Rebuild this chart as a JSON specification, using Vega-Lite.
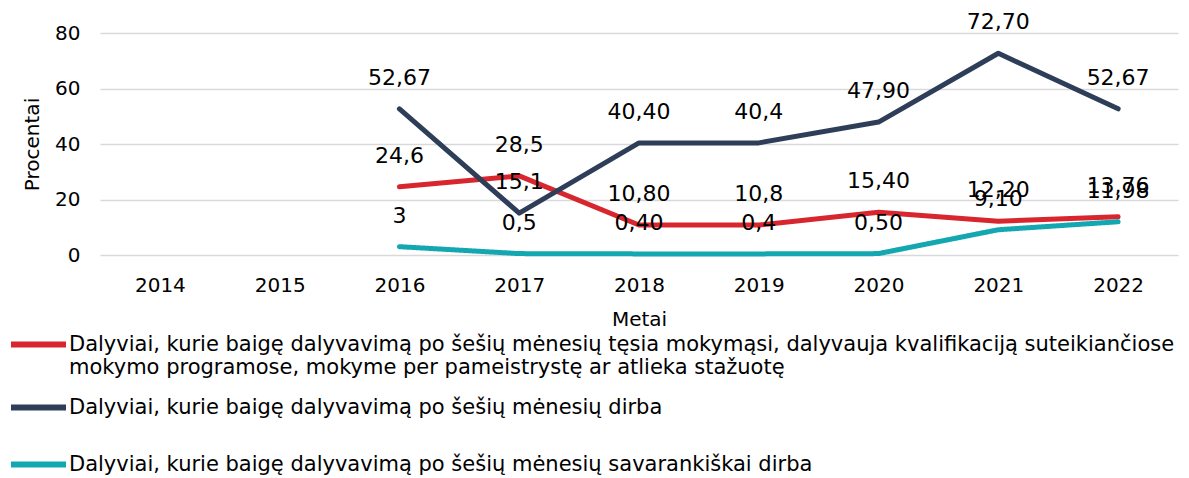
{
  "$schema": "https://vega.github.io/schema/vega-lite/v6.json",
  "width": 1078,
  "height": 222,
  "autosize": {"type": "none"},
  "padding": {"left": 100, "top": 33, "right": 11, "bottom": 223},
  "background": "white",
  "config": {
    "font": "DejaVu Sans",
    "view": {"stroke": null},
    "axis": {"labelFont": "DejaVu Sans", "titleFont": "DejaVu Sans", "labelColor": "#000000", "titleColor": "#000000", "titleFontWeight": "normal"},
    "legend": {"title": null, "orient": "none", "direction": "vertical", "symbolType": "stroke", "symbolSize": 3025, "symbolStrokeWidth": 6, "labelFontSize": 21, "labelFont": "DejaVu Sans", "labelColor": "#000000", "labelLimit": 1300, "labelOffset": 0, "padding": 0}
  },
  "data": {
    "values": [
      {"year": "2016", "series": "A", "value": 24.6, "label": "24,6"},
      {"year": "2017", "series": "A", "value": 28.5, "label": "28,5"},
      {"year": "2018", "series": "A", "value": 10.8, "label": "10,80"},
      {"year": "2019", "series": "A", "value": 10.8, "label": "10,8"},
      {"year": "2020", "series": "A", "value": 15.4, "label": "15,40"},
      {"year": "2021", "series": "A", "value": 12.2, "label": "12,20"},
      {"year": "2022", "series": "A", "value": 13.76, "label": "13,76"},
      {"year": "2016", "series": "B", "value": 52.67, "label": "52,67"},
      {"year": "2017", "series": "B", "value": 15.1, "label": "15,1"},
      {"year": "2018", "series": "B", "value": 40.4, "label": "40,40"},
      {"year": "2019", "series": "B", "value": 40.4, "label": "40,4"},
      {"year": "2020", "series": "B", "value": 47.9, "label": "47,90"},
      {"year": "2021", "series": "B", "value": 72.7, "label": "72,70"},
      {"year": "2022", "series": "B", "value": 52.67, "label": "52,67"},
      {"year": "2016", "series": "C", "value": 3, "label": "3"},
      {"year": "2017", "series": "C", "value": 0.5, "label": "0,5"},
      {"year": "2018", "series": "C", "value": 0.4, "label": "0,40"},
      {"year": "2019", "series": "C", "value": 0.4, "label": "0,4"},
      {"year": "2020", "series": "C", "value": 0.5, "label": "0,50"},
      {"year": "2021", "series": "C", "value": 9.1, "label": "9,10"},
      {"year": "2022", "series": "C", "value": 11.98, "label": "11,98"}
    ]
  },
  "encoding": {
    "x": {
      "field": "year", "type": "ordinal",
      "scale": {"domain": ["2014","2015","2016","2017","2018","2019","2020","2021","2022"]},
      "axis": {"title": "Metai", "labelAngle": 0, "labelFontSize": 20, "titleFontSize": 20, "labelPadding": 20, "titlePadding": 14, "ticks": false, "domain": false, "grid": false}
    },
    "y": {
      "field": "value", "type": "quantitative",
      "scale": {"domain": [0, 80], "nice": false},
      "axis": {"title": "Procentai", "values": [0,20,40,60,80], "labelFontSize": 20, "titleFontSize": 20, "labelPadding": 20, "titlePadding": 12, "ticks": false, "domain": false, "gridColor": "#d9d9d9", "gridWidth": 1.5}
    }
  },
  "layer": [
    {
      "transform": [{"filter": "datum.series == 'A'"}],
      "mark": {"type": "line", "strokeWidth": 5, "strokeCap": "round", "strokeJoin": "round"},
      "encoding": {
        "color": {
          "field": "series", "type": "nominal",
          "scale": {"domain": ["A"], "range": ["#d8262f"]},
          "legend": {
            "legendX": -92, "legendY": 281,
            "labelExpr": "['Dalyviai, kurie baigę dalyvavimą po šešių mėnesių tęsia mokymąsi, dalyvauja kvalifikaciją suteikiančiose', 'mokymo programose, mokyme per pameistrystę ar atlieka stažuotę']"
          }
        }
      }
    },
    {
      "transform": [{"filter": "datum.series == 'B'"}],
      "mark": {"type": "line", "strokeWidth": 5, "strokeCap": "round", "strokeJoin": "round"},
      "encoding": {
        "stroke": {
          "field": "series", "type": "nominal",
          "scale": {"domain": ["B"], "range": ["#2e3e59"]},
          "legend": {
            "legendX": -92, "legendY": 344,
            "labelExpr": "'Dalyviai, kurie baigę dalyvavimą po šešių mėnesių dirba'"
          }
        }
      }
    },
    {
      "transform": [{"filter": "datum.series == 'C'"}],
      "mark": {"type": "line", "strokeWidth": 5, "strokeCap": "round", "strokeJoin": "round", "stroke": "#13a7b2"},
      "encoding": {
        "strokeDash": {
          "field": "series", "type": "nominal",
          "scale": {"domain": ["C"], "range": [[1, 0]]},
          "legend": {
            "legendX": -92, "legendY": 401,
            "symbolStrokeColor": "#13a7b2",
            "labelExpr": "'Dalyviai, kurie baigę dalyvavimą po šešių mėnesių savarankiškai dirba'"
          }
        }
      }
    },
    {
      "mark": {"type": "text", "dy": -31, "fontSize": 22, "color": "#000000"},
      "encoding": {"text": {"field": "label"}}
    }
  ]
}
